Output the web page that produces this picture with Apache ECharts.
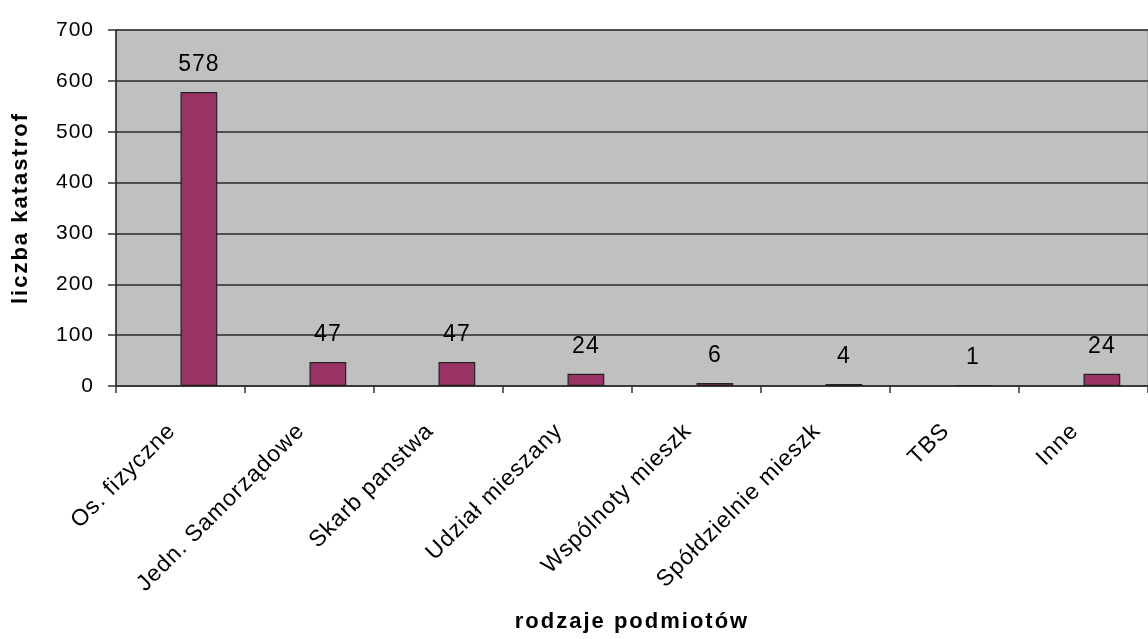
<!DOCTYPE html>
<html>
<head>
<meta charset="utf-8">
<script src="https://cdn.jsdelivr.net/npm/echarts@6/dist/echarts.min.js"></script>
<style>
  html, body { margin: 0; padding: 0; background: #ffffff; }
  #chart { width: 1148px; height: 639px; }
</style>
</head>
<body>
<div id="chart"></div>
<script>
// Kategorie podmiotów
const categories = [
  'Os. fizyczne', 'Jedn. Samorządowe', 'Skarb panstwa', 'Udział mieszany',
  'Wspólnoty mieszk', 'Spółdzielnie mieszk', 'TBS', 'Inne'
];
// Liczba katastrof w każdej kategorii
const values = [578, 47, 47, 24, 6, 4, 1, 24];
// Pusta seria towarzysząca (zajmuje lewą połowę grupy słupków)
const emptySeries = [null, null, null, null, null, null, null, null];
// Podziałka osi Y
const yMin = 0, yMax = 700, yStep = 100;

const FONT = '"Liberation Sans", Arial, sans-serif';

// Nieco szersze odstępy między literami (pogrubione tytuły osi – większe)
(function () {
  const P = CanvasRenderingContext2D.prototype;
  if (!('letterSpacing' in P)) return;
  const spacingFor = f => (/bold/.test(f) ? '2px' : '1px');
  const fill = P.fillText, measure = P.measureText;
  P.fillText = function (t, x, y, w) {
    this.letterSpacing = spacingFor(this.font);
    return w === undefined ? fill.call(this, t, x, y) : fill.call(this, t, x, y, w);
  };
  P.measureText = function (t) {
    this.letterSpacing = spacingFor(this.font);
    return measure.call(this, t);
  };
})();

const chart = echarts.init(document.getElementById('chart'), null, { renderer: 'canvas' });
chart.setOption({
  animation: false,
  backgroundColor: '#ffffff',
  grid: {
    left: 116, width: 1044, top: 30, bottom: 251,
    show: true, backgroundColor: '#c0c0c0', borderColor: '#8a8a8a', borderWidth: 1
  },
  xAxis: {
    type: 'category',
    data: categories,
    name: 'rodzaje podmiotów',
    nameLocation: 'middle',
    nameGap: 224,
    nameTextStyle: { fontFamily: FONT, fontSize: 22, fontWeight: 'bold', color: '#000' },
    axisLine: { lineStyle: { color: '#333', width: 1.5 } },
    axisTick: { show: true, length: 7, lineStyle: { color: '#333', width: 1.5 } },
    axisLabel: {
      interval: 0, rotate: 45, margin: 33, padding: [0, 12, 0, 0],
      fontFamily: FONT, fontSize: 23, color: '#000'
    },
    splitLine: { show: false }
  },
  yAxis: {
    type: 'value',
    min: yMin, max: yMax, interval: yStep,
    name: 'liczba katastrof',
    nameLocation: 'middle',
    nameGap: 83,
    nameRotate: 90,
    nameTextStyle: { fontFamily: FONT, fontSize: 22, fontWeight: 'bold', color: '#000' },
    axisLine: { show: true, lineStyle: { color: '#222', width: 1.5 } },
    axisTick: { show: true, length: 8, lineStyle: { color: '#333', width: 1.5 } },
    axisLabel: { margin: 22, fontFamily: FONT, fontSize: 21, color: '#000' },
    splitLine: { show: true, lineStyle: { color: '#2a2a2a', width: 1.5 } }
  },
  series: [
    {
      type: 'bar',
      data: emptySeries,
      barGap: '0%',
      barCategoryGap: '43%',
      itemStyle: { color: 'transparent' }
    },
    {
      type: 'bar',
      data: values,
      barGap: '0%',
      barCategoryGap: '43%',
      itemStyle: { color: '#993366', borderColor: '#222', borderWidth: 1.2 },
      label: {
        show: true, position: 'top', distance: 15,
        fontFamily: FONT, fontSize: 23, color: '#000'
      }
    }
  ]
});
</script>
</body>
</html>
